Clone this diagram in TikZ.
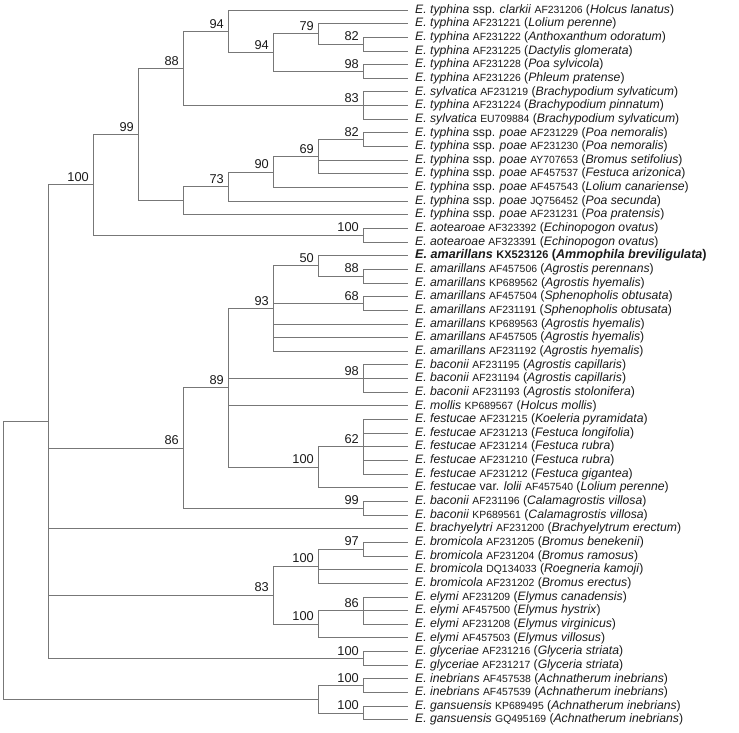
\documentclass[tikz,border=0pt]{standalone}
\usepackage{fontspec}
\setmainfont{Liberation Sans}
\usetikzlibrary{positioning}
\definecolor{branch}{HTML}{777777}
\definecolor{ink}{HTML}{1A1A1A}
\newcommand\acc[1]{{\fontsize{10.4}{11}\selectfont #1}}
\newcommand\tx[1]{\textit{#1}}

\begin{document}
\begin{tikzpicture}[
  x=1pt, y=-13.65pt,
  edge/.style={draw=branch,line width=0.9pt},
  leaf/.style={anchor=west,inner xsep=7pt,inner ysep=0pt,font=\fontsize{12.2}{13}\selectfont,text=ink},
  boot/.style={inner sep=0pt,font=\fontsize{12.8}{13}\selectfont,text=ink}
]
\useasboundingbox (0pt,-3.65pt) rectangle (739pt,-735.65pt);

% leaves
\node[leaf] (l1) at (408,1) {\tx{E. typhina} ssp. \tx{clarkii} \acc{AF231206} (\tx{Holcus lanatus})};
\node[leaf] (l2) at (408,2) {\tx{E. typhina} \acc{AF231221} (\tx{Lolium perenne})};
\node[leaf] (l3) at (408,3) {\tx{E. typhina} \acc{AF231222} (\tx{Anthoxanthum odoratum})};
\node[leaf] (l4) at (408,4) {\tx{E. typhina} \acc{AF231225} (\tx{Dactylis glomerata})};
\node[leaf] (l5) at (408,5) {\tx{E. typhina} \acc{AF231228} (\tx{Poa sylvicola})};
\node[leaf] (l6) at (408,6) {\tx{E. typhina} \acc{AF231226} (\tx{Phleum pratense})};
\node[leaf] (l7) at (408,7) {\tx{E. sylvatica} \acc{AF231219} (\tx{Brachypodium sylvaticum})};
\node[leaf] (l8) at (408,8) {\tx{E. typhina} \acc{AF231224} (\tx{Brachypodium pinnatum})};
\node[leaf] (l9) at (408,9) {\tx{E. sylvatica} \acc{EU709884} (\tx{Brachypodium sylvaticum})};
\node[leaf] (l10) at (408,10) {\tx{E. typhina} ssp. \tx{poae} \acc{AF231229} (\tx{Poa nemoralis})};
\node[leaf] (l11) at (408,11) {\tx{E. typhina} ssp. \tx{poae} \acc{AF231230} (\tx{Poa nemoralis})};
\node[leaf] (l12) at (408,12) {\tx{E. typhina} ssp. \tx{poae} \acc{AY707653} (\tx{Bromus setifolius})};
\node[leaf] (l13) at (408,13) {\tx{E. typhina} ssp. \tx{poae} \acc{AF457537} (\tx{Festuca arizonica})};
\node[leaf] (l14) at (408,14) {\tx{E. typhina} ssp. \tx{poae} \acc{AF457543} (\tx{Lolium canariense})};
\node[leaf] (l15) at (408,15) {\tx{E. typhina} ssp. \tx{poae} \acc{JQ756452} (\tx{Poa secunda})};
\node[leaf] (l16) at (408,16) {\tx{E. typhina} ssp. \tx{poae} \acc{AF231231} (\tx{Poa pratensis})};
\node[leaf] (l17) at (408,17) {\tx{E. aotearoae} \acc{AF323392} (\tx{Echinopogon ovatus})};
\node[leaf] (l18) at (408,18) {\tx{E. aotearoae} \acc{AF323391} (\tx{Echinopogon ovatus})};
\node[leaf,font=\fontsize{12.6}{13}\selectfont\bfseries] (l19) at (408,19) {\tx{E. amarillans} {\fontsize{11}{11}\selectfont KX523126} (\tx{Ammophila breviligulata})};
\node[leaf] (l20) at (408,20) {\tx{E. amarillans} \acc{AF457506} (\tx{Agrostis perennans})};
\node[leaf] (l21) at (408,21) {\tx{E. amarillans} \acc{KP689562} (\tx{Agrostis hyemalis})};
\node[leaf] (l22) at (408,22) {\tx{E. amarillans} \acc{AF457504} (\tx{Sphenopholis obtusata})};
\node[leaf] (l23) at (408,23) {\tx{E. amarillans} \acc{AF231191} (\tx{Sphenopholis obtusata})};
\node[leaf] (l24) at (408,24) {\tx{E. amarillans} \acc{KP689563} (\tx{Agrostis hyemalis})};
\node[leaf] (l25) at (408,25) {\tx{E. amarillans} \acc{AF457505} (\tx{Agrostis hyemalis})};
\node[leaf] (l26) at (408,26) {\tx{E. amarillans} \acc{AF231192} (\tx{Agrostis hyemalis})};
\node[leaf] (l27) at (408,27) {\tx{E. baconii} \acc{AF231195} (\tx{Agrostis capillaris})};
\node[leaf] (l28) at (408,28) {\tx{E. baconii} \acc{AF231194} (\tx{Agrostis capillaris})};
\node[leaf] (l29) at (408,29) {\tx{E. baconii} \acc{AF231193} (\tx{Agrostis stolonifera})};
\node[leaf] (l30) at (408,30) {\tx{E. mollis} \acc{KP689567} (\tx{Holcus mollis})};
\node[leaf] (l31) at (408,31) {\tx{E. festucae} \acc{AF231215} (\tx{Koeleria pyramidata})};
\node[leaf] (l32) at (408,32) {\tx{E. festucae} \acc{AF231213} (\tx{Festuca longifolia})};
\node[leaf] (l33) at (408,33) {\tx{E. festucae} \acc{AF231214} (\tx{Festuca rubra})};
\node[leaf] (l34) at (408,34) {\tx{E. festucae} \acc{AF231210} (\tx{Festuca rubra})};
\node[leaf] (l35) at (408,35) {\tx{E. festucae} \acc{AF231212} (\tx{Festuca gigantea})};
\node[leaf] (l36) at (408,36) {\tx{E. festucae} var. \tx{lolii} \acc{AF457540} (\tx{Lolium perenne})};
\node[leaf] (l37) at (408,37) {\tx{E. baconii} \acc{AF231196} (\tx{Calamagrostis villosa})};
\node[leaf] (l38) at (408,38) {\tx{E. baconii} \acc{KP689561} (\tx{Calamagrostis villosa})};
\node[leaf] (l39) at (408,39) {\tx{E. brachyelytri} \acc{AF231200} (\tx{Brachyelytrum erectum})};
\node[leaf] (l40) at (408,40) {\tx{E. bromicola} \acc{AF231205} (\tx{Bromus benekenii})};
\node[leaf] (l41) at (408,41) {\tx{E. bromicola} \acc{AF231204} (\tx{Bromus ramosus})};
\node[leaf] (l42) at (408,42) {\tx{E. bromicola} \acc{DQ134033} (\tx{Roegneria kamoji})};
\node[leaf] (l43) at (408,43) {\tx{E. bromicola} \acc{AF231202} (\tx{Bromus erectus})};
\node[leaf] (l44) at (408,44) {\tx{E. elymi} \acc{AF231209} (\tx{Elymus canadensis})};
\node[leaf] (l45) at (408,45) {\tx{E. elymi} \acc{AF457500} (\tx{Elymus hystrix})};
\node[leaf] (l46) at (408,46) {\tx{E. elymi} \acc{AF231208} (\tx{Elymus virginicus})};
\node[leaf] (l47) at (408,47) {\tx{E. elymi} \acc{AF457503} (\tx{Elymus villosus})};
\node[leaf] (l48) at (408,48) {\tx{E. glyceriae} \acc{AF231216} (\tx{Glyceria striata})};
\node[leaf] (l49) at (408,49) {\tx{E. glyceriae} \acc{AF231217} (\tx{Glyceria striata})};
\node[leaf] (l50) at (408,50) {\tx{E. inebrians} \acc{AF457538} (\tx{Achnatherum inebrians})};
\node[leaf] (l51) at (408,51) {\tx{E. inebrians} \acc{AF457539} (\tx{Achnatherum inebrians})};
\node[leaf] (l52) at (408,52) {\tx{E. gansuensis} \acc{KP689495} (\tx{Achnatherum inebrians})};
\node[leaf] (l53) at (408,53) {\tx{E. gansuensis} \acc{GQ495169} (\tx{Achnatherum inebrians})};

% internal nodes
\coordinate (n82a) at (363,3.5);
\coordinate (n98a) at (363,5.5);
\coordinate (n79) at (318,2.75);
\coordinate (n94b) at (273,4.125);
\coordinate (n94a) at (228,2.5625);
\coordinate (n83a) at (363,8);
\coordinate (n88a) at (183,5.28125);
\coordinate (n82b) at (363,10.5);
\coordinate (n69) at (318,11.75);
\coordinate (n90) at (273,12.875);
\coordinate (n73) at (228,13.9375);
\coordinate (poae) at (183,14.96875);
\coordinate (n99a) at (138,10.125);
\coordinate (aot) at (363,17.5);
\coordinate (n100a) at (93,13.8125);
\coordinate (n88b) at (363,20.5);
\coordinate (n50) at (318,19.75);
\coordinate (n68) at (363,22.5);
\coordinate (n93) at (273,22.875);
\coordinate (n98b) at (363,28);
\coordinate (n62) at (363,33);
\coordinate (n100f) at (318,34.5);
\coordinate (n89) at (228,28.6875);
\coordinate (n99b) at (363,37.5);
\coordinate (n86a) at (183,33.09375);
\coordinate (n97) at (363,40.5);
\coordinate (n100b) at (318,41.75);
\coordinate (n86b) at (363,45);
\coordinate (n100e) at (318,46);
\coordinate (n83b) at (273,43.875);
\coordinate (gly) at (363,48.5);
\coordinate (core) at (48,31.15625);
\coordinate (ineb) at (363,50.5);
\coordinate (gans) at (363,52.5);
\coordinate (achn) at (318,51.5);
\coordinate (root) at (3,41.328);

% support values
\node[boot,above left=3pt and 4pt of n94a] (b94a) {94};
\node[boot,above left=3pt and 4pt of n79] (b79) {79};
\node[boot,above left=3pt and 4pt of n82a] (b82a) {82};
\node[boot,above left=3pt and 4pt of n94b] (b94b) {94};
\node[boot,above left=3pt and 4pt of n98a] (b98a) {98};
\node[boot,above left=3pt and 4pt of n88a] (b88a) {88};
\node[boot,above left=3pt and 4pt of n83a] (b83a) {83};
\node[boot,above left=3pt and 4pt of n99a] (b99a) {99};
\node[boot,above left=3pt and 4pt of n82b] (b82b) {82};
\node[boot,above left=3pt and 4pt of n69] (b69) {69};
\node[boot,above left=3pt and 4pt of n90] (b90) {90};
\node[boot,above left=3pt and 4pt of n73] (b73) {73};
\node[boot,above left=3pt and 4pt of n100a] (b100a) {100};
\node[boot,above left=3pt and 4pt of aot] (baot) {100};
\node[boot,above left=3pt and 4pt of n50] (b50) {50};
\node[boot,above left=3pt and 4pt of n88b] (b88b) {88};
\node[boot,above left=3pt and 4pt of n68] (b68) {68};
\node[boot,above left=3pt and 4pt of n93] (b93) {93};
\node[boot,above left=3pt and 4pt of n89] (b89) {89};
\node[boot,above left=3pt and 4pt of n98b] (b98b) {98};
\node[boot,above left=3pt and 4pt of n62] (b62) {62};
\node[boot,above left=3pt and 4pt of n100f] (b100f) {100};
\node[boot,above left=3pt and 4pt of n86a] (b86a) {86};
\node[boot,above left=3pt and 4pt of n99b] (b99b) {99};
\node[boot,above left=3pt and 4pt of n97] (b97) {97};
\node[boot,above left=3pt and 4pt of n100b] (b100b) {100};
\node[boot,above left=3pt and 4pt of n83b] (b83b) {83};
\node[boot,above left=3pt and 4pt of n86b] (b86b) {86};
\node[boot,above left=3pt and 4pt of n100e] (b100e) {100};
\node[boot,above left=3pt and 4pt of gly] (bgly) {100};
\node[boot,above left=3pt and 4pt of ineb] (bineb) {100};
\node[boot,above left=3pt and 4pt of gans] (bgans) {100};

% branches
\foreach \c in {l3,l4} \draw[edge] (n82a) |- (\c);
\foreach \c in {l5,l6} \draw[edge] (n98a) |- (\c);
\foreach \c in {l2,n82a} \draw[edge] (n79) |- (\c);
\foreach \c in {n79,n98a} \draw[edge] (n94b) |- (\c);
\foreach \c in {l1,n94b} \draw[edge] (n94a) |- (\c);
\foreach \c in {l7,l8,l9} \draw[edge] (n83a) |- (\c);
\foreach \c in {n94a,n83a} \draw[edge] (n88a) |- (\c);
\foreach \c in {l10,l11} \draw[edge] (n82b) |- (\c);
\foreach \c in {n82b,l12,l13} \draw[edge] (n69) |- (\c);
\foreach \c in {n69,l14} \draw[edge] (n90) |- (\c);
\foreach \c in {n90,l15} \draw[edge] (n73) |- (\c);
\foreach \c in {n73,l16} \draw[edge] (poae) |- (\c);
\foreach \c in {n88a,poae} \draw[edge] (n99a) |- (\c);
\foreach \c in {l17,l18} \draw[edge] (aot) |- (\c);
\foreach \c in {n99a,aot} \draw[edge] (n100a) |- (\c);
\foreach \c in {l20,l21} \draw[edge] (n88b) |- (\c);
\foreach \c in {l19,n88b} \draw[edge] (n50) |- (\c);
\foreach \c in {l22,l23} \draw[edge] (n68) |- (\c);
\foreach \c in {n50,n68,l24,l25,l26} \draw[edge] (n93) |- (\c);
\foreach \c in {l27,l28,l29} \draw[edge] (n98b) |- (\c);
\foreach \c in {l31,l32,l33,l34,l35} \draw[edge] (n62) |- (\c);
\foreach \c in {n62,l36} \draw[edge] (n100f) |- (\c);
\foreach \c in {n93,n98b,l30,n100f} \draw[edge] (n89) |- (\c);
\foreach \c in {l37,l38} \draw[edge] (n99b) |- (\c);
\foreach \c in {n89,n99b} \draw[edge] (n86a) |- (\c);
\foreach \c in {l40,l41} \draw[edge] (n97) |- (\c);
\foreach \c in {n97,l42,l43} \draw[edge] (n100b) |- (\c);
\foreach \c in {l44,l45,l46} \draw[edge] (n86b) |- (\c);
\foreach \c in {n86b,l47} \draw[edge] (n100e) |- (\c);
\foreach \c in {n100b,n100e} \draw[edge] (n83b) |- (\c);
\foreach \c in {l48,l49} \draw[edge] (gly) |- (\c);
\foreach \c in {n100a,n86a,l39,n83b,gly} \draw[edge] (core) |- (\c);
\foreach \c in {l50,l51} \draw[edge] (ineb) |- (\c);
\foreach \c in {l52,l53} \draw[edge] (gans) |- (\c);
\foreach \c in {ineb,gans} \draw[edge] (achn) |- (\c);
\foreach \c in {core,achn} \draw[edge] (root) |- (\c);
\end{tikzpicture}
\end{document}
